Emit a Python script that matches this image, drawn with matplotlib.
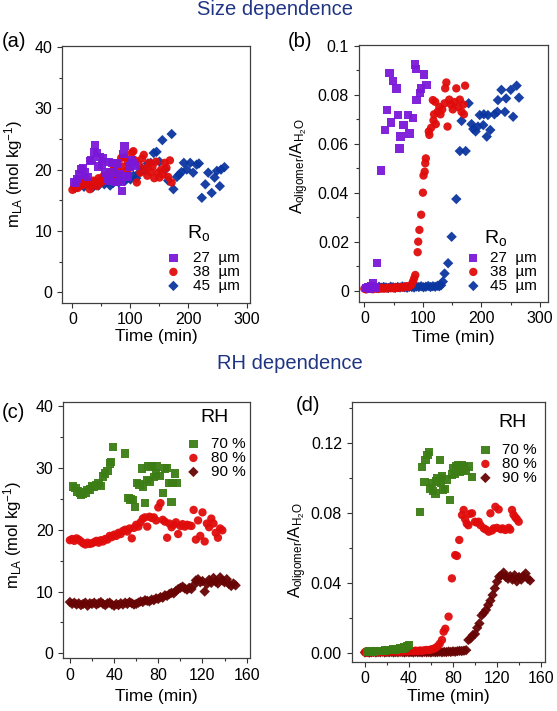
import matplotlib
matplotlib.use("Agg")
import matplotlib.pyplot as plt
from matplotlib.ticker import MultipleLocator, FuncFormatter

plt.rcParams['font.family'] = ['Liberation Sans', 'DejaVu Sans']
plt.rcParams['mathtext.fontset'] = 'custom'
plt.rcParams['mathtext.rm'] = 'Liberation Sans'
plt.rcParams['mathtext.it'] = 'Liberation Sans:italic'

# ---- (a) m_LA vs time, size dependence ----
a27_t = [3, 6, 9, 12, 15, 18, 22, 26, 30, 33, 37, 39, 42, 45, 48, 51, 53, 56, 59, 62, 65, 68,
         71, 74, 77, 80, 83, 85, 88, 90, 93, 96, 99, 102, 105, 108]
a27_y = [18.0, 17.8, 18.5, 19.2, 20.0, 20.3, 19.5, 18.8, 21.4, 21.6, 22.8, 24.0, 22.7, 20.5, 22.0,
         20.8, 21.8, 19.5, 18.5, 21.2, 18.2, 21.1, 19.5, 18.0, 21.0, 19.2, 18.0, 16.5, 22.5, 23.8,
         18.9, 19.0, 20.5, 21.5, 21.1, 20.6]
a38_t = [0, 3, 6, 9, 12, 15, 18, 21, 24, 27, 30, 33, 36, 39, 42, 45, 48, 51, 54, 57, 60, 63, 66, 69,
         72, 75, 78, 81, 84, 87, 90, 93, 96, 99, 102, 105, 108, 111, 114, 117, 120, 123, 126, 129,
         132, 135, 138, 141, 144, 147, 150, 153, 156, 159, 162, 165, 168, 171]
a38_y = [16.7, 17.2, 17.5, 17.0, 17.8, 17.4, 18.0, 17.6, 18.3, 17.9, 16.8, 17.5, 18.2, 18.0, 17.3,
         18.6, 17.8, 18.4, 19.0, 18.2, 18.8, 19.5, 18.6, 19.8, 20.2, 19.0, 21.0, 19.6, 21.9, 20.5,
         22.0, 19.8, 21.2, 20.3, 22.7, 23.0, 21.5, 17.9, 20.8, 19.5, 21.8, 22.4, 20.2, 19.0, 21.1,
         19.6, 20.5, 18.6, 21.3, 19.5, 18.7, 20.0, 19.2, 21.1, 20.3, 18.8, 21.5, 17.9]
a45_t = [5, 10, 15, 20, 25, 30, 35, 40, 45, 50, 55, 60, 65, 70, 75, 80, 85, 90, 95, 100, 105, 110,
         115, 120, 125, 130, 135, 140, 145, 150, 155, 160, 165, 171, 174, 180, 184, 188, 192, 197,
         203, 208, 214, 218, 223, 229, 234, 240, 245, 249, 254, 256, 262]
a45_y = [17.0, 17.3, 17.8, 17.2, 18.0, 17.5, 17.1, 17.9, 17.4, 18.2, 17.6, 18.0, 17.4, 17.8, 18.3,
         17.9, 18.5, 18.1, 18.8, 18.4, 19.0, 18.6, 19.5, 20.2, 19.8, 21.0, 21.1, 22.7, 22.9, 21.3,
         24.8, 20.0, 18.2, 25.8, 16.8, 18.8, 19.2, 19.6, 21.1, 20.0, 21.1, 19.5, 20.8, 21.0, 15.4,
         17.6, 19.5, 16.2, 18.7, 19.8, 17.3, 20.0, 20.4]

# ---- (b) A_oligomer/A_H2O vs time, size dependence ----
b27_t = [3, 6, 9, 12, 15, 18, 20, 22, 28, 35, 39, 43, 46, 49, 55, 57, 60, 62, 67, 75, 77, 83, 87,
         88, 89, 95, 97, 102, 106]
b27_y = [0.0010, 0.0015, 0.0008, 0.0020, 0.0030, 0.0015, 0.0012, 0.0113, 0.0491, 0.0656, 0.0738,
         0.0890, 0.0687, 0.0856, 0.0826, 0.0717, 0.0580, 0.0629, 0.0676, 0.0717, 0.0642, 0.0706,
         0.0924, 0.0905, 0.0778, 0.0806, 0.0826, 0.0883, 0.0840]
b38_t = [0, 3, 6, 9, 12, 15, 18, 21, 24, 27, 30, 33, 36, 39, 42, 45, 48, 51, 54, 57, 60, 63, 66, 69,
         72, 75, 78, 81, 83, 85, 87, 91, 92, 94, 97, 100, 101, 103, 104, 105, 110, 111, 114, 117,
         118, 119, 121, 122, 125, 128, 130, 133, 137, 138, 140, 142, 145, 148, 151, 154, 157, 160,
         163, 166, 169, 170, 172]
b38_y = [0.0008, 0.0005, 0.0010, 0.0007, 0.0012, 0.0006, 0.0009, 0.0011, 0.0007, 0.0010, 0.0012,
         0.0008, 0.0011, 0.0009, 0.0013, 0.0010, 0.0012, 0.0009, 0.0014, 0.0011, 0.0013, 0.0015,
         0.0012, 0.0016, 0.0018, 0.0015, 0.0020, 0.0025, 0.0037, 0.0050, 0.0064, 0.0157, 0.0200,
         0.0248, 0.0310, 0.0400, 0.0470, 0.0486, 0.0520, 0.0540, 0.0650, 0.0636, 0.0665, 0.0778,
         0.0695, 0.0720, 0.0771, 0.0680, 0.0730, 0.0750, 0.0720, 0.0740, 0.0765, 0.0826, 0.0850,
         0.0670, 0.0780, 0.0760, 0.0740, 0.0770, 0.0826, 0.0750, 0.0780, 0.0730, 0.0760, 0.0720,
         0.0837]
b45_t = [5, 9, 13, 17, 21, 25, 29, 33, 37, 41, 45, 49, 53, 57, 61, 65, 69, 73, 77, 81, 85, 89, 93,
         97, 101, 105, 109, 113, 117, 121, 125, 128, 131, 134, 137, 143, 149, 157, 163, 166, 173,
         178, 183, 186, 190, 194, 197, 203, 204, 209, 211, 215, 222, 227, 228, 234, 240, 242, 250,
         254, 260, 264]
b45_y = [0.0012, 0.0015, 0.0010, 0.0014, 0.0011, 0.0016, 0.0012, 0.0015, 0.0013, 0.0011, 0.0016,
         0.0014, 0.0012, 0.0015, 0.0013, 0.0017, 0.0014, 0.0012, 0.0016, 0.0015, 0.0013, 0.0017,
         0.0015, 0.0018, 0.0014, 0.0016, 0.0019, 0.0015, 0.0018, 0.0016, 0.0020, 0.0018, 0.0022,
         0.0037, 0.0070, 0.0112, 0.0220, 0.0374, 0.0570, 0.0693, 0.0570, 0.0765, 0.0680, 0.0660,
         0.0650, 0.0670, 0.0717, 0.0676, 0.0720, 0.0629, 0.0717, 0.0656, 0.0720, 0.0730, 0.0778,
         0.0820, 0.0730, 0.0785, 0.0820, 0.0710, 0.0837, 0.0788]

# ---- (c) m_LA vs time, RH dependence ----
c70_t = [3, 5, 7, 9, 10, 12, 14, 16, 18, 20, 22, 24, 26, 28, 30, 32, 34, 36, 37, 39, 50, 53, 55,
         57, 59, 61, 63, 65, 66, 68, 70, 71, 72, 74, 76, 78, 79, 81, 84, 86, 88, 90, 92, 93, 95, 97]
c70_y = [27.0, 26.7, 26.2, 25.9, 25.6, 25.8, 26.0, 26.4, 26.5, 27.0, 26.9, 27.2, 27.5, 27.1, 28.6,
         29.1, 29.5, 30.7, 31.0, 33.4, 32.3, 25.1, 24.9, 24.8, 23.7, 27.5, 27.3, 29.9, 27.0, 24.3,
         28.0, 30.2, 27.8, 30.3, 28.5, 29.1, 30.2, 28.7, 25.9, 29.9, 30.0, 27.5, 24.5, 27.6, 29.1,
         27.5]
c80_t = list(range(0, 140, 2))
c80_y = [18.3, 18.5, 18.2, 18.6, 18.4, 18.1, 17.8, 17.6, 17.9, 17.7, 17.8, 18.0, 18.2, 17.9, 18.3,
         18.1, 18.5, 18.4, 19.0, 18.8, 19.2, 19.0, 19.5, 19.3, 19.8, 20.0, 19.7, 20.2, 18.6, 20.3,
         20.8, 20.5, 21.2, 21.8, 22.0, 20.5, 22.1, 21.9, 22.0, 21.5, 23.6, 24.3, 21.6, 21.3, 18.7,
         21.0, 20.4, 20.8, 21.2, 19.3, 20.6, 20.9, 20.5, 20.8, 20.7, 20.6, 23.2, 18.4, 21.5, 19.0,
         22.8, 18.1, 21.0, 20.4, 21.8, 21.0, 19.5, 18.7, 20.2, 19.9]
c90_t = list(range(0, 152, 2))
c90_y = [8.3, 8.0, 8.2, 7.9, 8.1, 7.8, 8.0, 8.2, 7.7, 8.1, 8.0, 8.2, 7.9, 8.1, 8.3, 8.0, 7.8, 8.1,
         8.2, 7.9, 7.7, 8.0, 7.8, 8.1, 7.9, 8.2, 8.0, 8.3, 8.1, 7.9, 8.0,
         8.2, 8.4, 8.3, 8.6, 8.5, 8.4, 8.7, 8.6, 8.9, 8.8, 9.1, 9.0, 9.4, 9.3, 9.6, 9.8, 9.7, 10.1,
         10.4, 10.6,
         10.8, 10.5, 10.3, 10.6, 10.4, 11.0, 11.8, 12.0, 11.5, 11.7, 10.0, 11.2, 11.9, 11.4, 12.2,
         11.6, 11.3, 12.3, 11.8, 11.5, 12.0, 11.2, 10.9, 11.3, 11.0]

# ---- (d) A_oligomer/A_H2O vs time, RH dependence ----
d70_t = [2, 4, 6, 8, 10, 12, 14, 16, 18, 20, 22, 24, 26, 28, 30, 32, 34, 36, 38, 40,
         50, 52, 54, 55, 57, 58, 59, 61, 62, 64, 65, 66, 68, 69, 70, 71, 73, 74, 77, 79, 80, 82,
         83, 84, 85, 86, 88, 89, 90, 92, 94, 97]
d70_y = [0.0008, 0.0010, 0.0012, 0.0010, 0.0014, 0.0012, 0.0015, 0.0013, 0.0016, 0.0018, 0.0017,
         0.0020, 0.0022, 0.0021, 0.0025, 0.0028, 0.0027, 0.0033, 0.0040, 0.0048,
         0.0807, 0.1063, 0.0978, 0.1100, 0.1130, 0.1149, 0.0940, 0.0970, 0.0925, 0.0910, 0.0980,
         0.1000, 0.1100, 0.0970, 0.1010, 0.0930, 0.0935, 0.0990, 0.0874, 0.1020, 0.1055, 0.1025,
         0.1065, 0.1040, 0.1070, 0.1035, 0.1075, 0.1045, 0.1060, 0.1040, 0.1065, 0.1003]
d80_t = [0, 2, 4, 6, 8, 10, 12, 14, 16, 18, 20, 22, 24, 26, 28, 30, 32, 34, 36, 38, 40, 42, 44, 46,
         48, 50, 52, 54, 56, 58, 60, 62, 64, 66, 68, 70, 71.5, 73, 76, 79, 82, 83.6, 85.7, 88.2,
         89.7, 91, 92.5, 94, 95.5, 97.3, 100, 101.5, 103.3, 105, 108, 110, 112.5, 114, 115.5, 117,
         118.5, 120, 121.5, 123.5, 125, 127.5, 130.6, 132, 133.6, 135, 136.6, 138, 139.7]
d80_y = [0.0006, 0.0004, 0.0007, 0.0005, 0.0008, 0.0006, 0.0009, 0.0007, 0.0010, 0.0008, 0.0011,
         0.0009, 0.0012, 0.0010, 0.0011, 0.0009, 0.0012, 0.0010, 0.0013, 0.0011, 0.0012, 0.0014,
         0.0012, 0.0015, 0.0013, 0.0016, 0.0014, 0.0017, 0.0019, 0.0018, 0.0022, 0.0025, 0.0030,
         0.0040, 0.0055, 0.0076, 0.0123, 0.0140, 0.0209, 0.0427, 0.0560, 0.0555, 0.0646, 0.0788,
         0.0817, 0.0765, 0.0740, 0.0730, 0.0795, 0.0798, 0.0750, 0.0745, 0.0750, 0.0730, 0.0712,
         0.0705, 0.0693, 0.0798, 0.0700, 0.0712, 0.0835, 0.0715, 0.0820, 0.0707, 0.0712, 0.0703,
         0.0715, 0.0705, 0.0817, 0.0790, 0.0775, 0.0765, 0.0750]
d90_t = list(range(0, 152, 2))
d90_y = [0.0005, 0.0007, 0.0004, 0.0006, 0.0008, 0.0005, 0.0007, 0.0006, 0.0009, 0.0005, 0.0007,
         0.0006, 0.0008, 0.0005, 0.0007, 0.0006, 0.0008, 0.0007, 0.0005, 0.0008, 0.0006, 0.0007,
         0.0005, 0.0008, 0.0006, 0.0007, 0.0005, 0.0008, 0.0006, 0.0007, 0.0005, 0.0008, 0.0006,
         0.0007, 0.0009, 0.0006, 0.0008, 0.0007, 0.0010, 0.0008, 0.0011, 0.0009, 0.0012, 0.0014,
         0.0013, 0.0015, 0.0018, 0.0076, 0.0085, 0.0104, 0.0110, 0.0145, 0.0170, 0.0216, 0.0230,
         0.0247, 0.0275, 0.0300, 0.0332, 0.0370, 0.0408, 0.0437, 0.0445, 0.0460, 0.0435, 0.0425,
         0.0440, 0.0420, 0.0445, 0.0410, 0.0435, 0.0420, 0.0440, 0.0455, 0.0425, 0.0415]

size_labels = ['27  \u00b5m', '38  \u00b5m', '45  \u00b5m']
rh_labels = ['70 %', '80 %', '90 %']

PURPLE = '#7a18d8'
RED = '#e00c0c'
BLUE = '#0b36a0'
GREEN = '#3c7d15'
DARKRED = '#680404'
TITLE_BLUE = '#1f3583'

fig = plt.figure(figsize=(5.57, 7.11), dpi=100)
ax_a = fig.add_axes([0.1113, 0.5743, 0.3375, 0.3614])
ax_b = fig.add_axes([0.6440, 0.5757, 0.3393, 0.3610])
ax_c = fig.add_axes([0.1136, 0.0741, 0.3352, 0.3609])
ax_d = fig.add_axes([0.6314, 0.0693, 0.3471, 0.3657])

ylab_m = r'm$_{\mathrm{LA}}$ (mol kg$^{\mathrm{-1}}$)'
ylab_a = r'A$_{\mathrm{oligomer}}$/A$_{\mathrm{H_2O}}$'


def style(ax, xmaj, ymaj, xlim, ylim):
    ax.set_xlim(*xlim)
    ax.set_ylim(*ylim)
    ax.xaxis.set_major_locator(MultipleLocator(xmaj))
    ax.xaxis.set_minor_locator(MultipleLocator(xmaj / 2))
    ax.yaxis.set_major_locator(MultipleLocator(ymaj))
    ax.yaxis.set_minor_locator(MultipleLocator(ymaj / 2))
    ax.tick_params(which='both', direction='out', labelsize=11.5, color='#333333', width=0.8)
    ax.tick_params(which='major', length=3.5)
    ax.tick_params(which='minor', length=2)
    for sp in ax.spines.values():
        sp.set_linewidth(0.9)
        sp.set_color('#404040')
    ax.set_xlabel('Time (min)', fontsize=12.5, va='center')


def scat(ax, t, y, color, marker, s):
    return ax.scatter(t, y, s=s, c=color, marker=marker, edgecolors='none', alpha=0.95)


def legend(ax, handles, labels, x0, y0, pad, title, tx, ty):
    ax.legend(handles, labels, loc='lower left', bbox_to_anchor=(x0, y0), frameon=False,
              fontsize=11, handlelength=1.0, handletextpad=pad, labelspacing=0.0,
              borderpad=0, borderaxespad=0, scatterpoints=1)
    ax.text(tx, ty, title, transform=ax.transAxes, fontsize=14, ha='left', va='baseline')


SQ, CI, DI = 36, 36, 28

# (a)
style(ax_a, 100, 10, (-18, 306), (-1.7, 40.2))
h1 = scat(ax_a, a45_t, a45_y, BLUE, 'D', DI)
h2 = scat(ax_a, a38_t, a38_y, RED, 'o', CI)
h3 = scat(ax_a, a27_t, a27_y, PURPLE, 's', SQ)
ax_a.set_ylabel(ylab_m, fontsize=12, va='center')
ax_a.yaxis.set_label_coords(-0.26, 0.5)
ax_a.xaxis.set_label_coords(0.5, -0.133)
legend(ax_a, [h3, h2, h1], size_labels, 0.552, 0.038, 0.8, r'R$_{\mathrm{o}}$', 0.665, 0.252)

# (b)
style(ax_b, 100, 0.02, (-9.6, 313), (-0.0045, 0.1003))
ax_b.yaxis.set_major_formatter(FuncFormatter(lambda v, p: f'{v:g}'))
h1 = scat(ax_b, b45_t, b45_y, BLUE, 'D', DI)
h2 = scat(ax_b, b38_t, b38_y, RED, 'o', CI)
h3 = scat(ax_b, b27_t, b27_y, PURPLE, 's', SQ)
ax_b.set_ylabel(ylab_a, fontsize=12, va='center')
ax_b.yaxis.set_label_coords(-0.31, 0.53)
ax_b.xaxis.set_label_coords(0.5, -0.138)
legend(ax_b, [h3, h2, h1], size_labels, 0.566, 0.034, 0.62, r'R$_{\mathrm{o}}$', 0.663, 0.229)

# (c)
style(ax_c, 40, 10, (-6, 163), (-0.8, 40.7))
h1 = scat(ax_c, c90_t, c90_y, DARKRED, 'D', DI)
h2 = scat(ax_c, c80_t, c80_y, RED, 'o', CI)
h3 = scat(ax_c, c70_t, c70_y, GREEN, 's', SQ)
ax_c.set_ylabel(ylab_m, fontsize=12, va='center')
ax_c.yaxis.set_label_coords(-0.272, 0.48)
ax_c.xaxis.set_label_coords(0.5, -0.147)
legend(ax_c, [h3, h2, h1], rh_labels, 0.656, 0.699, 0.62, 'RH', 0.732, 0.922)

# (d)
style(ax_d, 40, 0.04, (-12, 163.6), (-0.0048, 0.1434))
ax_d.yaxis.set_major_formatter(FuncFormatter(lambda v, p: f'{v:.2f}'))
h1 = scat(ax_d, d90_t, d90_y, DARKRED, 'D', DI)
h2 = scat(ax_d, d80_t, d80_y, RED, 'o', CI)
h3 = scat(ax_d, d70_t, d70_y, GREEN, 's', SQ)
ax_d.set_ylabel(ylab_a, fontsize=12, va='center')
ax_d.yaxis.set_label_coords(-0.28, 0.43)
ax_d.xaxis.set_label_coords(0.5, -0.132)
legend(ax_d, [h3, h2, h1], rh_labels, 0.652, 0.68, 0.62, 'RH', 0.757, 0.903)

# panel letters and section titles
for lab, x, y in [('(a)', 0.025, 0.941), ('(b)', 0.539, 0.941),
                  ('(c)', 0.025, 0.4205), ('(d)', 0.553, 0.429)]:
    fig.text(x, y, lab, fontsize=14.5, ha='center', va='center')
fig.text(0.494, 0.986, 'Size dependence', fontsize=14.5, color=TITLE_BLUE, ha='center', va='center')
fig.text(0.520, 0.489, 'RH dependence', fontsize=14.5, color=TITLE_BLUE, ha='center', va='center')

fig.savefig('out.png', dpi=100)
